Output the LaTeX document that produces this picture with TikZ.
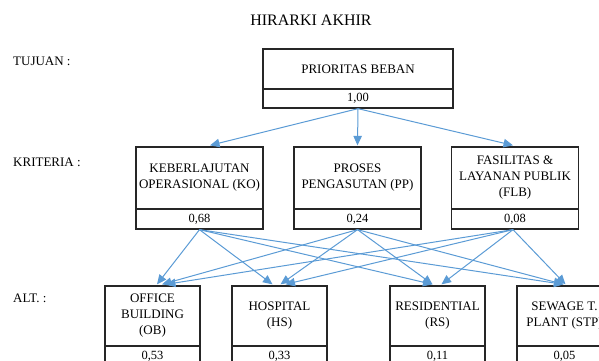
\documentclass[tikz,border=0pt]{standalone}
\usepackage{fontspec}
\setmainfont{Liberation Serif}
\usetikzlibrary{arrows.meta,calc}
\definecolor{linkblue}{HTML}{5B9BD5}
\begin{document}
\begin{tikzpicture}[x=1pt,y=-1pt,
  cell/.style={draw=black!85, line width=1.3pt, inner sep=0pt, align=center,
    font=\fontsize{13}{16}\selectfont},
  valcell/.style={cell, font=\fontsize{12.5}{14}\selectfont},
  link/.style={draw=linkblue, line width=1pt, -{Triangle[length=9.5pt,width=8.5pt]}},
  lbl/.style={anchor=west, inner sep=0pt, font=\fontsize{13}{16}\selectfont}]
\useasboundingbox (0,0) rectangle (599,361);
\clip (0,0) rectangle (599,361);

% title and level labels
\node[inner sep=0pt, font=\fontsize{16}{18}\selectfont] (title) at (311,20) {HIRARKI AKHIR};
\node[lbl] (ltuj) at (13,61) {TUJUAN :};
\node[lbl] (lkri) at (13,162) {KRITERIA :};
\node[lbl] (lalt) at (13,298) {ALT. :};

% goal
\node[cell, minimum width=190pt, minimum height=40pt] (goal) at (358,69) {PRIORITAS BEBAN};
\node[valcell, minimum width=190pt, minimum height=19pt] (goalv) at (358,98.5) {1,00};

% criteria
\node[cell, minimum width=127pt, minimum height=62pt] (ko) at (199.5,178) {KEBERLAJUTAN\\OPERASIONAL (KO)};
\node[valcell, minimum width=127pt, minimum height=20pt] (kov) at (199.5,219) {0,68};
\node[cell, minimum width=127pt, minimum height=62pt] (pp) at (357.5,178) {PROSES\\PENGASUTAN (PP)};
\node[valcell, minimum width=127pt, minimum height=20pt] (ppv) at (357.5,219) {0,24};
\node[cell, minimum width=127pt, minimum height=62pt] (flb) at (515,178) {FASILITAS \&\\LAYANAN PUBLIK\\(FLB)};
\node[valcell, minimum width=127pt, minimum height=20pt] (flbv) at (515,219) {0,08};

% alternatives
\node[cell, minimum width=95pt, minimum height=60pt] (ob) at (152.5,316) {OFFICE\\BUILDING\\(OB)};
\node[valcell, minimum width=95pt, minimum height=20pt] (obv) at (152.5,356) {0,53};
\node[cell, minimum width=95pt, minimum height=60pt] (hs) at (279.5,316) {HOSPITAL\\(HS)};
\node[valcell, minimum width=95pt, minimum height=20pt] (hsv) at (279.5,356) {0,33};
\node[cell, minimum width=95pt, minimum height=60pt] (rs) at (437.5,316) {RESIDENTIAL\\(RS)};
\node[valcell, minimum width=95pt, minimum height=20pt] (rsv) at (437.5,356) {0,11};
\node[cell, minimum width=95pt, minimum height=60pt] (stp) at (564.5,316) {SEWAGE T.\\PLANT (STP)};
\node[valcell, minimum width=95pt, minimum height=20pt] (stpv) at (564.5,356) {0,05};

% goal -> criteria
\draw[link] (goalv.south) -- ($(ko.north)+(10.5,-1)$);
\draw[link] (goalv.south) -- ($(pp.north)+(0,-1)$);
\draw[link] (goalv.south) -- ($(flb.north)+(-2,-1)$);

% criteria -> alternatives
\draw[link] (kov.south) -- ($(ob.north)+(4.5,-1)$);
\draw[link] (kov.south) -- ($(hs.north)+(-7,-1)$);
\draw[link] (kov.south) -- ($(rs.north)+(-5,-1)$);
\draw[link] (kov.south) -- ($(stp.north)+(-1,-1)$);

\draw[link] (ppv.south) -- ($(ob.north)+(9.5,-1)$);
\draw[link] (ppv.south) -- ($(hs.north)+(1,-1)$);
\draw[link] (ppv.south) -- ($(rs.north)+(-5,-1)$);
\draw[link] (ppv.south) -- ($(stp.north)+(-1,-1)$);

\draw[link] ($(flbv.south)+(-2,0)$) -- ($(ob.north)+(13.5,-1)$);
\draw[link] ($(flbv.south)+(-2,0)$) -- ($(hs.north)+(6,-1)$);
\draw[link] ($(flbv.south)+(-2,0)$) -- ($(rs.north)+(4,-1)$);
\draw[link] ($(flbv.south)+(-2,0)$) -- ($(stp.north)+(1,-1)$);
\end{tikzpicture}
\end{document}
